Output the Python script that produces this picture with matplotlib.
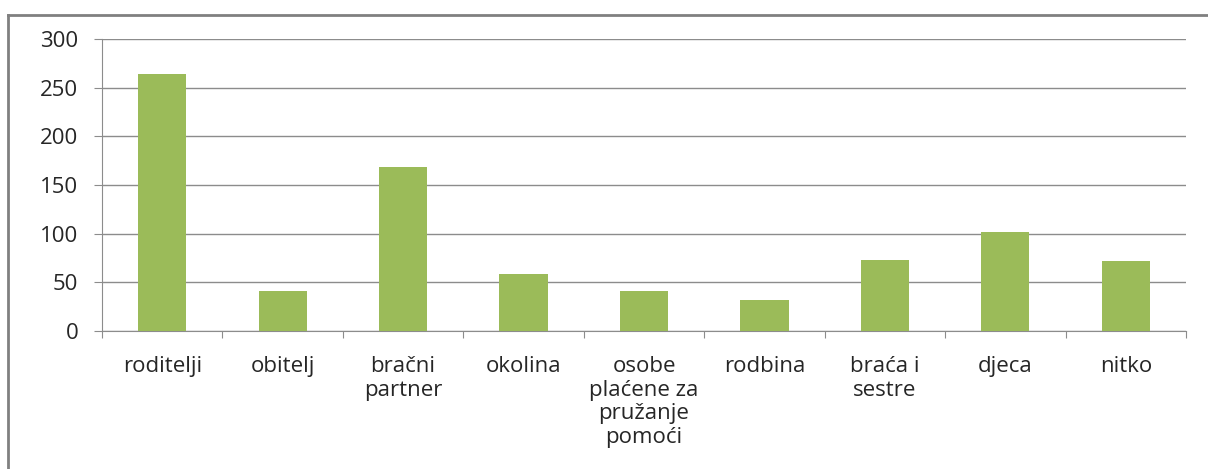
import matplotlib
matplotlib.use("Agg")
import matplotlib.pyplot as plt

categories = ["roditelji", "obitelj", "bračni\npartner", "okolina",
              "osobe\nplaćene za\npružanje\npomoći", "rodbina",
              "braća i\nsestre", "djeca", "nitko"]
values = [264, 41, 168, 59, 41, 32, 73, 102, 72]
yticks = [0, 50, 100, 150, 200, 250, 300]

W, H = 1208, 469
plt.rcParams['font.family'] = ['Open Sans', 'DejaVu Sans']
fig = plt.figure(figsize=(W / 100, H / 100), dpi=100)

# outer border (cropped frame)
fig.add_artist(plt.Line2D([8 / W, 1.0], [1 - 15 / H, 1 - 15 / H], transform=fig.transFigure,
                          color="#808080", lw=2))
fig.add_artist(plt.Line2D([8 / W, 8 / W], [0, 1 - 15 / H], transform=fig.transFigure,
                          color="#808080", lw=2))

left, right, top, bottom = 102, 1186, 39, 331
ax = fig.add_axes([left / W, 1 - bottom / H, (right - left) / W, (bottom - top) / H])

x = list(range(len(categories)))
ax.bar(x, values, width=0.4, color="#9BBB59", zorder=3)
ax.set_xlim(-0.5, len(categories) - 0.5)
ax.set_ylim(0, 300)
ax.set_yticks(yticks)
ax.yaxis.grid(True, color="#8C8C8C", lw=1)
ax.set_axisbelow(True)

for s in ["top", "right"]:
    ax.spines[s].set_visible(False)
ax.spines["left"].set_color("#8C8C8C")
ax.spines["bottom"].set_color("#8C8C8C")

ax.set_xticks([i - 0.5 for i in range(len(categories) + 1)])
ax.set_xticklabels([])
ax.tick_params(axis="x", length=5, color="#8C8C8C", direction="out")
ax.tick_params(axis="y", length=6, color="#8C8C8C", labelsize=16, pad=11, labelcolor="#262626")

for i, c in enumerate(categories):
    ax.annotate(c, xy=(i, 0), xycoords=("data", "axes fraction"),
                xytext=(0, -25), textcoords="offset pixels",
                ha="center", va="top", fontsize=16, color="#262626",
                linespacing=1.17)

fig.savefig("out.png", dpi=100)
